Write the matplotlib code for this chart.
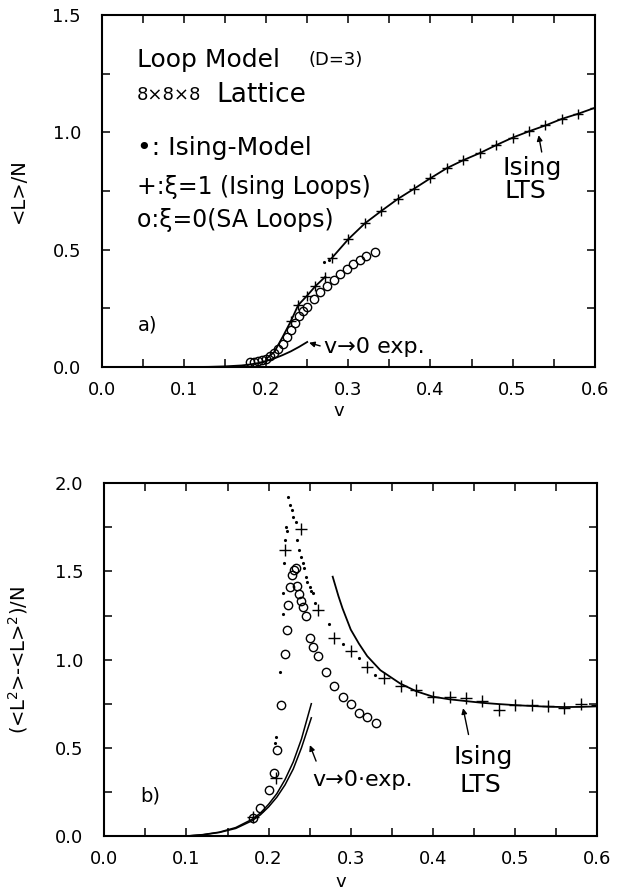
import matplotlib
matplotlib.use("Agg")
import matplotlib.pyplot as plt
from matplotlib.ticker import MultipleLocator, FormatStrFormatter

plt.rcParams['font.family'] = ['DejaVu Sans']

# ---- panel a) <L>/N ----
lts_v = [0.28, 0.30, 0.32, 0.34, 0.36, 0.38, 0.40, 0.42, 0.44, 0.46, 0.48, 0.50, 0.52, 0.54, 0.56, 0.58, 0.60]
lts_a = [0.465, 0.545, 0.612, 0.665, 0.716, 0.760, 0.805, 0.848, 0.882, 0.912, 0.946, 0.978, 1.005, 1.030, 1.058, 1.080, 1.105]

isl_v_a = [0.20, 0.21, 0.22, 0.23, 0.239, 0.25, 0.26, 0.272]
isl_a = [0.035, 0.065, 0.128, 0.195, 0.264, 0.305, 0.345, 0.385]

sa_v_a = [0.180, 0.185, 0.190, 0.195, 0.200, 0.205, 0.210, 0.215, 0.220, 0.225, 0.230,
          0.235, 0.240, 0.245, 0.250, 0.258, 0.266, 0.274, 0.282, 0.290, 0.298,
          0.306, 0.314, 0.322, 0.332]
sa_a = [0.020, 0.022, 0.025, 0.030, 0.036, 0.046, 0.060, 0.078, 0.100, 0.130, 0.160,
        0.190, 0.218, 0.240, 0.258, 0.290, 0.318, 0.345, 0.372, 0.396, 0.418,
        0.440, 0.458, 0.475, 0.490]

dot_v_a = [0.271, 0.276]
dot_a = [0.448, 0.456]

exp_v_a = [0.10, 0.13, 0.15, 0.17, 0.18, 0.19, 0.20, 0.21, 0.22, 0.23, 0.24, 0.25]
exp_a = [0.0, 0.001, 0.003, 0.007, 0.011, 0.017, 0.026, 0.037, 0.051, 0.067, 0.086, 0.107]

# ---- panel b) (<L^2>-<L>^2)/N ----
lts_v_b = [0.278, 0.285, 0.29, 0.30, 0.31, 0.32, 0.336, 0.36, 0.38, 0.40, 0.42, 0.44, 0.46, 0.48, 0.50, 0.52, 0.54, 0.56, 0.58, 0.60]
lts_b = [1.47, 1.36, 1.29, 1.17, 1.09, 1.02, 0.94, 0.865, 0.82, 0.79, 0.775, 0.765, 0.755, 0.748, 0.742, 0.737, 0.733, 0.731, 0.732, 0.735]

isl_v_b = [0.181, 0.209, 0.22, 0.24, 0.26, 0.28, 0.30, 0.32, 0.34, 0.361, 0.38, 0.40,
           0.421, 0.44, 0.46, 0.48, 0.50, 0.52, 0.54, 0.56, 0.58, 0.60]
isl_b = [0.11, 0.33, 1.62, 1.74, 1.28, 1.12, 1.05, 0.96, 0.895, 0.85, 0.83, 0.79,
         0.79, 0.78, 0.765, 0.715, 0.74, 0.74, 0.737, 0.725, 0.748, 0.742]

sa_v_b = [0.181, 0.19, 0.20, 0.206, 0.21, 0.215, 0.22, 0.222, 0.224, 0.226, 0.229, 0.231,
          0.233, 0.235, 0.237, 0.24, 0.242, 0.245, 0.25, 0.254, 0.26, 0.27, 0.28, 0.29,
          0.30, 0.31, 0.32, 0.331]
sa_b = [0.10, 0.16, 0.26, 0.36, 0.49, 0.74, 1.03, 1.17, 1.31, 1.41, 1.48, 1.51,
        1.52, 1.42, 1.37, 1.33, 1.30, 1.25, 1.12, 1.07, 1.02, 0.93, 0.85, 0.79,
        0.75, 0.70, 0.675, 0.64]

dot_v_b = [0.2236, 0.2255, 0.228, 0.230, 0.233, 0.234, 0.237, 0.239, 0.242, 0.243, 0.245,
           0.247, 0.250, 0.252, 0.254, 0.257, 0.273, 0.291, 0.31, 0.33,
           0.2215, 0.222, 0.2205, 0.219, 0.218, 0.2175, 0.214, 0.209, 0.208]
dot_b = [1.92, 1.875, 1.85, 1.81, 1.78, 1.68, 1.62, 1.58, 1.55, 1.52, 1.47,
         1.44, 1.41, 1.39, 1.38, 1.32, 1.20, 1.09, 1.01, 0.91,
         1.75, 1.73, 1.68, 1.55, 1.38, 1.26, 0.93, 0.56, 0.53]

exp_v_b = [0.10, 0.12, 0.14, 0.16, 0.18, 0.19, 0.20, 0.21, 0.22, 0.23, 0.24, 0.252]
exp_b1 = [0.0, 0.008, 0.022, 0.048, 0.095, 0.13, 0.18, 0.24, 0.32, 0.42, 0.55, 0.75]
exp_b2 = [0.0, 0.007, 0.020, 0.043, 0.087, 0.12, 0.165, 0.22, 0.29, 0.38, 0.50, 0.67]

fig = plt.figure(figsize=(6.17, 8.91), dpi=100)
ax1 = fig.add_axes([0.165, 0.588, 0.799, 0.395])
ax2 = fig.add_axes([0.169, 0.0617, 0.799, 0.396])

lw = 1.3
arrow = dict(arrowstyle='-|>', color='black', lw=1, mutation_scale=8)
for ax in (ax1, ax2):
    ax.set_xlim(0, 0.6)
    ax.xaxis.set_major_locator(MultipleLocator(0.1))
    ax.xaxis.set_minor_locator(MultipleLocator(0.05))
    ax.yaxis.set_major_locator(MultipleLocator(0.5))
    ax.yaxis.set_minor_locator(MultipleLocator(0.25))
    ax.xaxis.set_major_formatter(FormatStrFormatter('%.1f'))
    ax.yaxis.set_major_formatter(FormatStrFormatter('%.1f'))
    ax.tick_params(which='both', direction='in', top=True, right=True,
                   length=6, width=1.1, labelsize=13)
    ax.tick_params(axis='x', pad=10)
    ax.tick_params(axis='y', pad=15)
    for s in ax.spines.values():
        s.set_linewidth(1.5)
    ax.set_xlabel("v", fontsize=13)

# panel a
ax1.set_ylim(0, 1.5)
ax1.plot(lts_v, lts_a, color='black', lw=lw)
ax1.plot(lts_v, lts_a, '+', color='black', ms=7, mew=1)
ax1.plot(isl_v_a, isl_a, color='black', lw=lw)
ax1.plot(isl_v_a[3:], isl_a[3:], '+', color='black', ms=7, mew=1)
ax1.plot(sa_v_a, sa_a, 'o', mfc='none', mec='black', ms=6, mew=1)
ax1.plot(dot_v_a, dot_a, '.', color='black', ms=2.5)
ax1.plot(exp_v_a, exp_a, color='black', lw=lw)
ax1.set_ylabel("<L>/N", fontsize=14)
ax1.yaxis.set_label_coords(-0.15, 0.5)
ax1.xaxis.set_label_coords(0.48, -0.10)

ax1.text(0.043, 1.308, "Loop Model", fontsize=18, va='center')
ax1.text(0.252, 1.308, "(D=3)", fontsize=13, va='center')
ax1.text(0.043, 1.159, "8×8×8", fontsize=13, va='center')
ax1.text(0.140, 1.159, "Lattice", fontsize=19, va='center')
ax1.text(0.043, 0.933, "•: Ising-Model", fontsize=18, va='center')
ax1.text(0.043, 0.767, "+:ξ=1 (Ising Loops)", fontsize=17, va='center')
ax1.text(0.043, 0.626, "o:ξ=0(SA Loops)", fontsize=17, va='center')
ax1.text(0.044, 0.18, "a)", fontsize=14, va='center')
ax1.text(0.488, 0.850, "Ising", fontsize=18, va='center')
ax1.text(0.490, 0.752, "LTS", fontsize=18, va='center')
ax1.annotate("", xy=(0.531, 1.0), xytext=(0.536, 0.905), arrowprops=arrow)
ax1.text(0.271, 0.085, "v→0 exp.", fontsize=16, va='center')
ax1.annotate("", xy=(0.249, 0.107), xytext=(0.269, 0.087), arrowprops=arrow)

# panel b
ax2.set_ylim(0, 2.0)
ax2.plot(lts_v_b, lts_b, color='black', lw=lw)
ax2.plot(isl_v_b, isl_b, '+', color='black', ms=8, mew=1)
ax2.plot(sa_v_b, sa_b, 'o', mfc='none', mec='black', ms=6, mew=1)
ax2.plot(dot_v_b, dot_b, '.', color='black', ms=2.5)
ax2.plot(exp_v_b, exp_b1, color='black', lw=1.1)
ax2.plot(exp_v_b, exp_b2, color='black', lw=1.1)
ax2.set_ylabel("(<L$^2$>-<L>$^2$)/N", fontsize=14)
ax2.yaxis.set_label_coords(-0.15, 0.5)
ax2.xaxis.set_label_coords(0.48, -0.106)

ax2.text(0.044, 0.227, "b)", fontsize=14, va='center')
ax2.text(0.253, 0.317, "v→0·exp.", fontsize=16, va='center')
ax2.annotate("", xy=(0.249, 0.53), xytext=(0.259, 0.41), arrowprops=arrow)
ax2.text(0.425, 0.45, "Ising", fontsize=18, va='center')
ax2.text(0.432, 0.29, "LTS", fontsize=18, va='center')
ax2.annotate("", xy=(0.436, 0.74), xytext=(0.444, 0.56), arrowprops=arrow)

fig.savefig("out.png", dpi=100)
